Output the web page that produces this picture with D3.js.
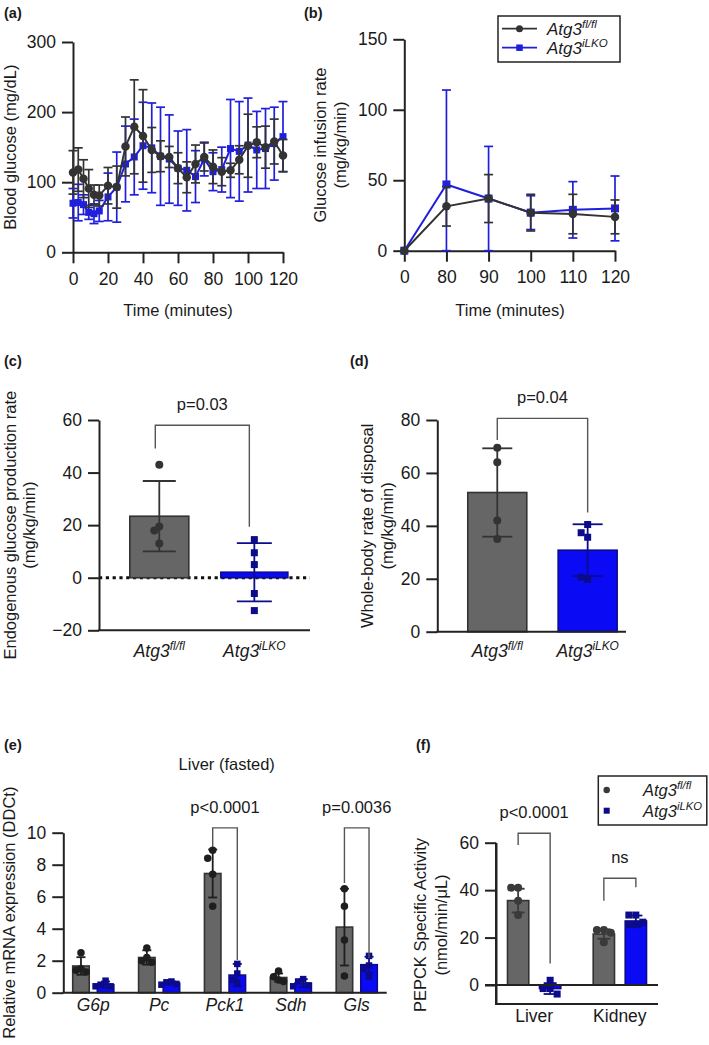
<!DOCTYPE html>
<html><head><meta charset="utf-8">
<script src="https://cdn.jsdelivr.net/npm/d3@7"></script>
<style>
body{margin:0;background:#fff}
svg{display:block}
text{font-family:"Liberation Sans",Arial,Helvetica,sans-serif;fill:#1a1a1a}
</style>
</head><body>
<svg id="c" width="709" height="1045"></svg>
<script>
// ---------------- DATA ----------------
// (a) Blood glucose during clamp
const aTimes = [0,3,6,9,12,15,20,25,30,35,40,45,50,55,60,65,70,75,80,85,90,95,100,105,110,115,120];
const aCtrlMean = [114,118,105,91,82,81,95,93,151,179,166,146,137,136,120,107,126,136,122,115,117,132,152,157,150,158,138];
const aCtrlSD   = [31,31,27,27,14,15,26,30,42,67,66,32,22,15,22,22,27,20,24,20,10,20,45,22,30,32,23];
const aKOMean   = [70,71,68,57,55,59,79,93,126,136,152,149,137,133,120,117,108,133,115,118,148,144,153,146,148,155,165];
const aKOSD     = [21,26,14,10,14,15,34,50,54,54,62,64,70,63,53,58,37,24,27,32,70,71,67,55,57,52,50];
const aYTicks = [0,100,200,300];
const aXTicks = [0,20,40,60,80,100,120];

// (b) Glucose infusion rate
const bTimes = ["0","80","90","100","110","120"];
const bCtrlMean = [0,31.5,37,27,26,24];
const bCtrlSD   = [0,14,17,13,14,12];
const bKOMean   = [0,47,37,27,29,30];
const bKOSD     = [0,67,37,12,20,23];
const bYTicks = [0,50,100,150];

// genotypes
const genoBase = "Atg3";
const genoSup = ["fl/fl","iLKO"];

// (c) Endogenous glucose production
const cCtrlPts = [43,19.5,18,13];
const cKOPts = [14.5,9.5,5,-6,-12.5];
const cMeans = [23.4,2.1];
const cSDs = [13.4,11.1];
const cYTicks = [-20,0,20,40,60];
const cBracket = {text:"p=0.03", top:58, left:49.2, right:19.4};

// (d) Whole-body rate of disposal
const dCtrlPts = [69.5,64,42,35];
const dKOPts = [40.5,35.7,37.4,19.8,20.6];
const dMeans = [52.6,30.8];
const dSDs = [16.7,9.8];
const dYTicks = [0,20,40,60,80];
const dBracket = {text:"p=0.04", top:80.6, left:72.4, right:45};

// (e) Liver mRNA
const eGenes = ["G6p","Pc","Pck1","Sdh","Gls"];
const eCtrlMean = [1.67,2.2,7.45,0.95,4.1];
const eCtrlSD   = [0.55,0.45,1.5,0.25,2.4];
const eKOMean   = [0.5,0.6,1.1,0.6,1.75];
const eKOSD     = [0.2,0.1,0.7,0.25,0.5];
const eCtrlPts = [[2.5,1.5,1.4,1.3],[2.8,2.2,2.0,1.9],[8.9,8.4,7.4,5.4],[1.35,1.0,0.8,0.7],[6.5,5.4,3.3,1.05]];
const eKOPts   = [[0.75,0.5,0.4,0.4],[0.7,0.65,0.55,0.5],[1.8,1.2,0.8,0.6],[0.85,0.7,0.45,0.4],[2.3,1.7,1.5,1.0]];
const eYTicks = [0,2,4,6,8,10];
const eBrackets = [{gene:"Pck1", text:"p<0.0001", top:10.3, left:9.1, right:2.05},
                   {gene:"Gls",  text:"p=0.0036", top:10.3, left:6.85, right:2.15}];

// (f) PEPCK activity
const fTissues = ["Liver","Kidney"];
const fCtrlMean = [35.6,21.5];
const fCtrlSD   = [5,2];
const fKOMean   = [-1.5,27];
const fKOSD     = [2.3,2.3];
const fCtrlPts = [[41,41,35.5,29.5],[23.2,23.2,22,18]];
const fKOPts   = [[2,-1.5,-1.5,-3.8],[29.5,29.5,26.5,25.5,25.5]];
const fYTicks = [0,20,40,60];
const fBrackets = [{tissue:"Liver", text:"p<0.0001", top:64, left:59, right:9.1},
                   {tissue:"Kidney", text:"ns", top:45, left:35.5, right:41.2}];

// ---------------- STYLE ----------------
const TICK_FS = 17.5, TITLE_FS = 16.5;
const AX = "#222";
const DARK = "#333333", BLUE_LINE = "#1f1fdc";
const GRAY_FILL = "#666666", GRAY_STROKE = "#333333";
const BLUE_FILL = "#0a0af5", NAVY = "#0c0c8a";

const svg = d3.select("#c");

function styleAxis(g){
  g.selectAll("path.domain").attr("stroke",AX).attr("stroke-width",2);
  g.selectAll(".tick line").attr("stroke",AX).attr("stroke-width",2);
  g.selectAll(".tick text").attr("font-size",TICK_FS).attr("fill","#1a1a1a")
    .attr("font-family","'Liberation Sans',Arial,sans-serif");
}
function yAxisAt(x, scale, ticks){
  const g = svg.append("g").attr("transform",`translate(${x},0)`)
    .call(d3.axisLeft(scale).tickValues(ticks).tickSize(11).tickSizeOuter(0).tickPadding(6));
  styleAxis(g); return g;
}
function vlabel(x, y, lines){
  lines.forEach((t,i)=>{
    svg.append("text").attr("transform",`translate(${x[i]},${y}) rotate(-90)`)
      .attr("text-anchor","middle").attr("dominant-baseline","central")
      .attr("font-size",TITLE_FS).text(t);
  });
}
function panelLabel(x,y,t){
  svg.append("text").attr("x",x).attr("y",y).attr("font-size",14.5).attr("font-weight","bold").text(t);
}
function geno(sel, sup, fs){
  sel.append("tspan").attr("font-style","italic").text(genoBase);
  sel.append("tspan").attr("font-style","italic").attr("font-size",fs*0.68).attr("dy",-fs*0.42).text(sup);
}
function hline(x1,x2,y,color,w){
  svg.append("line").attr("x1",x1).attr("x2",x2).attr("y1",y).attr("y2",y).attr("stroke",color).attr("stroke-width",w||2);
}
function errBar(g, x, y1, y2, cap, color, w){
  g.append("line").attr("x1",x).attr("x2",x).attr("y1",y1).attr("y2",y2).attr("stroke",color).attr("stroke-width",w);
  g.append("line").attr("x1",x-cap/2).attr("x2",x+cap/2).attr("y1",y1).attr("y2",y1).attr("stroke",color).attr("stroke-width",w);
  g.append("line").attr("x1",x-cap/2).attr("x2",x+cap/2).attr("y1",y2).attr("y2",y2).attr("stroke",color).attr("stroke-width",w);
}
function marker(g, shape, x, y, size, color){
  if(shape==="circle") g.append("circle").attr("cx",x).attr("cy",y).attr("r",size/2).attr("fill",color);
  else g.append("rect").attr("x",x-size/2).attr("y",y-size/2).attr("width",size).attr("height",size).attr("fill",color);
}
function swarm(vals, y, size, step){
  const placed=[];
  return vals.map(v=>{
    const py=y(v);
    for(const off of [0,-step,step,-2*step,2*step]){
      if(!placed.some(p=>Math.abs(p.off-off)<0.01 && Math.abs(p.py-py)<size+1)){ placed.push({off,py}); return off; }
    }
    return 0;
  });
}
function group(cx, bw, mean, sd, pts, y, o){
  const g = svg.append("g");
  const y0 = y(0), ym = y(mean);
  g.append("rect").attr("x",cx-bw/2).attr("y",Math.min(y0,ym)).attr("width",bw)
    .attr("height",Math.max(0.5,Math.abs(ym-y0))).attr("fill",o.fill).attr("stroke",o.stroke).attr("stroke-width",1.6);
  errBar(g, cx, y(mean+sd), y(mean-sd), o.cap, o.pt, 1.8);
  const offs = swarm(pts, y, o.size, o.step);
  pts.forEach((v,i)=>marker(g, o.shape, cx+offs[i], y(v), o.size, o.pt));
}
function bracket(xl, xr, yTop, yL, yR, text){
  const g = svg.append("g");
  g.append("path").attr("d",`M${xl},${yL}V${yTop}H${xr}V${yR}`).attr("fill","none").attr("stroke","#555").attr("stroke-width",1.4);
  g.append("text").attr("x",(xl+xr)/2).attr("y",yTop-21).attr("text-anchor","middle")
    .attr("dominant-baseline","central").attr("font-size",TITLE_FS).text(text);
}

// ---------------- (a) ----------------
{
  const x = d3.scaleLinear().domain([0,120]).range([73,283]);
  const y = d3.scaleLinear().domain([0,300]).range([252.3,42]);
  yAxisAt(73, y, aYTicks);
  const gx = svg.append("g").attr("transform",`translate(0,${y(0)})`)
    .call(d3.axisBottom(x).tickValues(aXTicks).tickSize(11).tickSizeOuter(0).tickPadding(9));
  styleAxis(gx);
  const series = [
    {m:aKOMean, s:aKOSD, c:BLUE_LINE, shape:"square", size:7},
    {m:aCtrlMean, s:aCtrlSD, c:DARK, shape:"circle", size:8.5}
  ];
  series.forEach(se=>{
    const g = svg.append("g");
    aTimes.forEach((t,i)=>errBar(g, x(t), y(se.m[i]+se.s[i]), y(Math.max(0,se.m[i]-se.s[i])), 9, se.c, 1.7));
    g.append("path").datum(aTimes.map((t,i)=>[t,se.m[i]]))
      .attr("d", d3.line().x(d=>x(d[0])).y(d=>y(d[1]))).attr("fill","none").attr("stroke",se.c).attr("stroke-width",2);
    aTimes.forEach((t,i)=>marker(g, se.shape, x(t), y(se.m[i]), se.size, se.c));
  });
  vlabel([10], (y(0)+y(300))/2, ["Blood glucose (mg/dL)"]);
  svg.append("text").attr("x",178).attr("y",310).attr("text-anchor","middle").attr("dominant-baseline","central")
    .attr("font-size",TITLE_FS).text("Time (minutes)");
  panelLabel(4,18,"(a)");
}

// ---------------- (b) ----------------
{
  const x = d3.scalePoint().domain(bTimes).range([404.3,615]);
  const y = d3.scaleLinear().domain([0,150]).range([250.7,39.3]);
  yAxisAt(404.3, y, bYTicks);
  const gx = svg.append("g").attr("transform",`translate(0,${y(0)})`)
    .call(d3.axisBottom(x).tickSize(11).tickSizeOuter(0).tickPadding(9));
  styleAxis(gx);
  const series = [
    {m:bKOMean, s:bKOSD, c:BLUE_LINE, shape:"square", size:8},
    {m:bCtrlMean, s:bCtrlSD, c:DARK, shape:"circle", size:8.5}
  ];
  series.forEach(se=>{
    const g = svg.append("g");
    bTimes.forEach((t,i)=>{ if(se.s[i]>0) errBar(g, x(t), y(se.m[i]+se.s[i]), y(Math.max(0,se.m[i]-se.s[i])), 9, se.c, 1.7); });
    g.append("path").datum(bTimes.map((t,i)=>[t,se.m[i]]))
      .attr("d", d3.line().x(d=>x(d[0])).y(d=>y(d[1]))).attr("fill","none").attr("stroke",se.c).attr("stroke-width",2);
    bTimes.forEach((t,i)=>marker(g, se.shape, x(t), y(se.m[i]), se.size, se.c));
  });
  vlabel([320,340], (y(0)+y(150))/2, ["Glucose infusion rate","(mg/kg/min)"]);
  svg.append("text").attr("x",510).attr("y",310).attr("text-anchor","middle").attr("dominant-baseline","central")
    .attr("font-size",TITLE_FS).text("Time (minutes)");
  panelLabel(304,18,"(b)");
  // legend
  const lg = svg.append("g");
  lg.append("rect").attr("x",498).attr("y",16).attr("width",122).attr("height",46).attr("fill","#fff").attr("stroke",AX).attr("stroke-width",1.5);
  [[28.7,DARK,"circle",7,genoSup[0]],[47.7,BLUE_LINE,"square",6.5,genoSup[1]]].forEach(r=>{
    lg.append("line").attr("x1",502).attr("x2",537).attr("y1",r[0]).attr("y2",r[0]).attr("stroke",r[1]).attr("stroke-width",1.8);
    marker(lg, r[2], 519.5, r[0], r[3], r[1]);
    const t = lg.append("text").attr("x",547).attr("y",r[0]+6).attr("font-size",17);
    geno(t, r[4], 17);
  });
}

// ---------------- (c) ----------------
{
  const y = d3.scaleLinear().domain([-20,60]).range([630.3,420]);
  const x = d3.scalePoint().domain(genoSup).range([99,310]).padding(0.61).align(0.52);
  const bw = 59;
  svg.append("line").attr("x1",99).attr("x2",310).attr("y1",y(0)).attr("y2",y(0))
    .attr("stroke","#111").attr("stroke-width",3).attr("stroke-dasharray","3.2,3.6");
  group(x(genoSup[0]), bw, cMeans[0], cSDs[0], cCtrlPts, y, {fill:GRAY_FILL, stroke:GRAY_STROKE, pt:DARK, shape:"circle", size:8, cap:33, step:5});
  group(x(genoSup[1]), bw+8, cMeans[1], cSDs[1], cKOPts, y, {fill:BLUE_FILL, stroke:NAVY, pt:NAVY, shape:"square", size:7, cap:35, step:6});
  yAxisAt(99, y, cYTicks);
  hline(98, 310, y(-20), AX, 2);
  bracket(x(genoSup[0])-4, x(genoSup[1])-5, y(cBracket.top), y(cBracket.left), y(cBracket.right), cBracket.text);
  genoSup.forEach(s=>{
    const t = svg.append("text").attr("x",x(s)).attr("y",657).attr("text-anchor","middle").attr("font-size",TICK_FS);
    geno(t, s, TICK_FS);
  });
  vlabel([10,29], (y(-20)+y(60))/2, ["Endogenous glucose production rate","(mg/kg/min)"]);
  panelLabel(4,366,"(c)");
}

// ---------------- (d) ----------------
{
  const y = d3.scaleLinear().domain([0,80]).range([631.7,420]);
  const x = d3.scalePoint().domain(genoSup).range([437.3,626]).padding(0.544).align(0.61);
  const bw = 59;
  group(x(genoSup[0]), bw, dMeans[0], dSDs[0], dCtrlPts, y, {fill:GRAY_FILL, stroke:GRAY_STROKE, pt:DARK, shape:"circle", size:8, cap:30, step:6});
  group(x(genoSup[1]), bw, dMeans[1], dSDs[1], dKOPts, y, {fill:BLUE_FILL, stroke:NAVY, pt:NAVY, shape:"square", size:7, cap:30, step:6.5});
  yAxisAt(437.3, y, dYTicks);
  hline(436.3, 626, y(0), AX, 2);
  bracket(x(genoSup[0]), x(genoSup[1]), y(dBracket.top), y(dBracket.left), y(dBracket.right), dBracket.text);
  genoSup.forEach(s=>{
    const t = svg.append("text").attr("x",x(s)).attr("y",657).attr("text-anchor","middle").attr("font-size",TICK_FS);
    geno(t, s, TICK_FS);
  });
  vlabel([367,387], (y(0)+y(80))/2, ["Whole-body rate of disposal","(mg/kg/min)"]);
  panelLabel(350,366,"(d)");
}

// ---------------- (e) ----------------
{
  const y = d3.scaleLinear().domain([0,10]).range([992.7,832.7]);
  const x = d3.scalePoint().domain(eGenes).range([63.3,386.7]).padding(0.455);
  const off = 12.3, bw = 16.5;
  eGenes.forEach((gname,i)=>{
    group(x(gname)-off, bw, eCtrlMean[i], eCtrlSD[i], eCtrlPts[i], y, {fill:GRAY_FILL, stroke:GRAY_STROKE, pt:"#1e1e1e", shape:"circle", size:7.5, cap:9, step:5});
    group(x(gname)+off, bw, eKOMean[i], eKOSD[i], eKOPts[i], y, {fill:BLUE_FILL, stroke:NAVY, pt:NAVY, shape:"square", size:6.5, cap:9, step:5});
  });
  yAxisAt(63.3, y, eYTicks);
  hline(62.3, 386.7, y(0), AX, 2);
  eBrackets.forEach(b=>bracket(x(b.gene)-off, x(b.gene)+off, y(b.top), y(b.left), y(b.right), b.text));
  eGenes.forEach(gname=>{
    svg.append("text").attr("x",x(gname)).attr("y",1011).attr("text-anchor","middle").attr("font-size",TICK_FS)
      .attr("font-style","italic").text(gname);
  });
  svg.append("text").attr("x",226.7).attr("y",763.5).attr("text-anchor","middle").attr("dominant-baseline","central")
    .attr("font-size",TITLE_FS).text("Liver (fasted)");
  vlabel([9], (y(0)+y(10))/2, ["Relative mRNA expression (DDCt)"]);
  panelLabel(4,750,"(e)");
}

// ---------------- (f) ----------------
{
  const y = d3.scaleLinear().domain([-8,60]).range([1004,842.7]);
  const x = d3.scalePoint().domain(fTissues).range([496,658]).padding(0.445);
  const off = 16, bw = 21.3;
  fTissues.forEach((t,i)=>{
    group(x(t)-off, bw, fCtrlMean[i], fCtrlSD[i], fCtrlPts[i], y, {fill:GRAY_FILL, stroke:GRAY_STROKE, pt:"#3a3a3a", shape:"circle", size:8, cap:13, step:7});
    group(x(t)+off, bw, fKOMean[i], fKOSD[i], fKOPts[i], y, {fill:BLUE_FILL, stroke:NAVY, pt:NAVY, shape:"square", size:7, cap:13, step:7});
  });
  yAxisAt(496, y, fYTicks);
  svg.append("line").attr("x1",496).attr("x2",496).attr("y1",y(60)).attr("y2",y(-8)).attr("stroke",AX).attr("stroke-width",2);
  hline(485, 658, y(0), AX, 2);
  hline(495, 658, y(-8), AX, 2);
  fBrackets.forEach(b=>bracket(x(b.tissue)-off, x(b.tissue)+off, y(b.top), y(b.left), y(b.right), b.text));
  fTissues.forEach(t=>{
    svg.append("text").attr("x",x(t)).attr("y",1022).attr("text-anchor","middle").attr("font-size",TICK_FS).text(t);
  });
  vlabel([420,441], 925, ["PEPCK Specific Activity","(nmol/min/\u03bcL)"]);
  panelLabel(416,750,"(f)");
  const lg = svg.append("g");
  lg.append("rect").attr("x",598.3).attr("y",776).attr("width",108.5).attr("height",49).attr("fill","#fff").attr("stroke",AX).attr("stroke-width",1.5);
  [[790,"#3a3a3a","circle",6.5,genoSup[0]],[810.7,NAVY,"square",6,genoSup[1]]].forEach(r=>{
    marker(lg, r[2], 606.7, r[0], r[3], r[1]);
    const t = lg.append("text").attr("x",643).attr("y",r[0]+6).attr("font-size",16.5);
    geno(t, r[4], 16.5);
  });
}
</script>
</body></html>
